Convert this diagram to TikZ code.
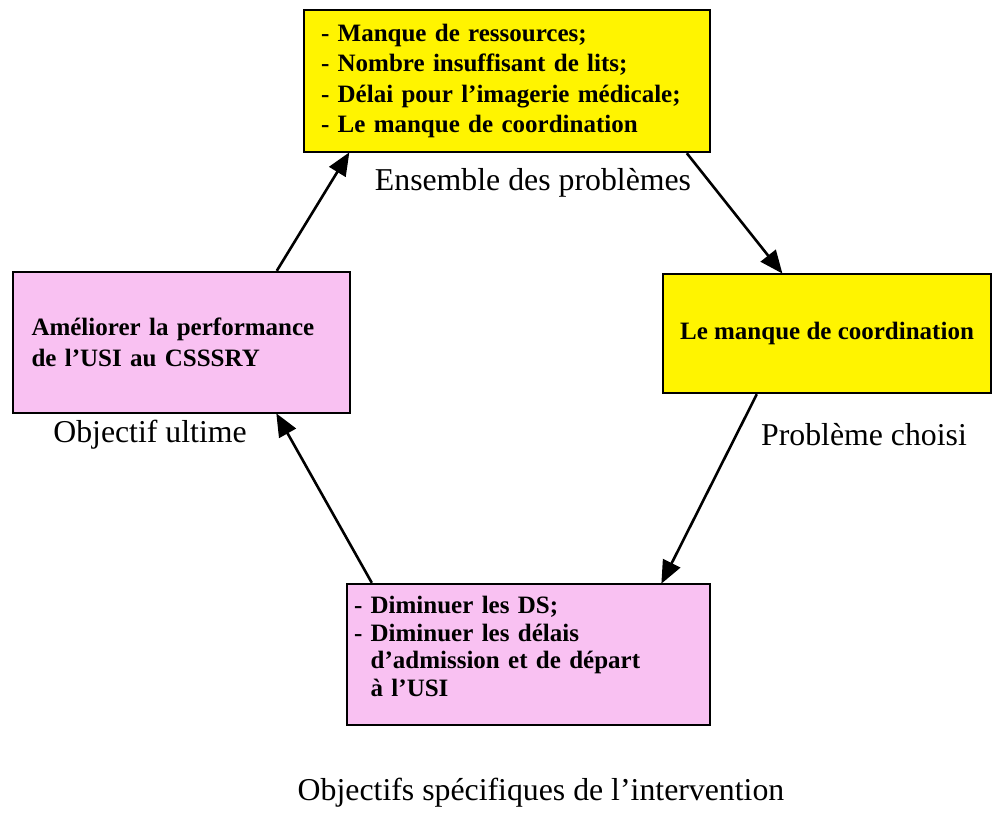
\documentclass[tikz,border=0pt]{standalone}
\usepackage{fontspec}
\setmainfont{Liberation Serif}
\usetikzlibrary{arrows.meta}
\definecolor{boxyellow}{RGB}{255,244,0}
\definecolor{boxpink}{RGB}{249,193,242}
\tikzset{
  box/.style={draw=black, line width=2.4pt, inner sep=0pt, font=\bfseries\fontsize{25}{30.5}\selectfont},
  yellowbox/.style={box, fill=boxyellow},
  pinkbox/.style={box, fill=boxpink},
  boxtext/.style={inner sep=0pt, align=left, font=\bfseries\fontsize{25}{27.8}\selectfont},
  caption/.style={font=\fontsize{31.8}{36}\selectfont, anchor=base, inner sep=0pt},
  flow/.style={line width=2.6pt, -{Triangle[length=23pt,width=19pt]}, shorten >=-1pt}
}
\newlength{\dashindent}
\begin{document}
\begin{tikzpicture}[x=1pt, y=-1pt]
  \useasboundingbox (0,0) rectangle (992,819);

  % cycle boxes
  \node[yellowbox, minimum width=406pt, minimum height=142pt, text width=372pt, align=left]
    (tb) at (507,81)
    {- Manque de ressources;\\
     - Nombre insuffisant de lits;\\
     - Délai pour l’imagerie médicale;\\
     - Le manque de coordination};
  \node[yellowbox, minimum width=328pt, minimum height=119pt, align=center]
    (rb) at (827,333.5) {Le manque de coordination};
  \node[pinkbox, minimum width=337pt, minimum height=141pt, text width=300pt, align=left]
    (lb) at (181.5,342.5)
    {Améliorer la performance\\de l’USI au CSSSRY};
  \node[pinkbox, minimum width=363pt, minimum height=141pt] (bb) at (528.5,654.5) {};
  \node[boxtext, text width=346pt, anchor=west] (bbt) at ([xshift=8pt, yshift=8pt]bb.west)
    {\settowidth{\dashindent}{- }%
     - Diminuer les DS;\\
     - Diminuer les délais\\
     \hspace*{\dashindent}d’admission et de départ\\
     \hspace*{\dashindent}à l’USI};

  % captions
  \node[caption] (ltb) at (533,190) {Ensemble des problèmes};
  \node[caption] (lrb) at (864,445) {Problème choisi};
  \node[caption] (llb) at (150,442) {Objectif ultime};
  \node[caption] (lbb) at (541,800) {Objectifs spécifiques de l’intervention};

  % connectors
  \draw[flow] ([xshift=265pt]lb.north west) -- ([xshift=46pt]tb.south west);
  \draw[flow] ([xshift=384pt]tb.south west) -- ([xshift=120pt]rb.north west);
  \draw[flow] ([xshift=95pt]rb.south west) -- ([xshift=316pt]bb.north west);
  \draw[flow] ([xshift=26pt]bb.north west) -- ([xshift=265pt]lb.south west);
\end{tikzpicture}
\end{document}
